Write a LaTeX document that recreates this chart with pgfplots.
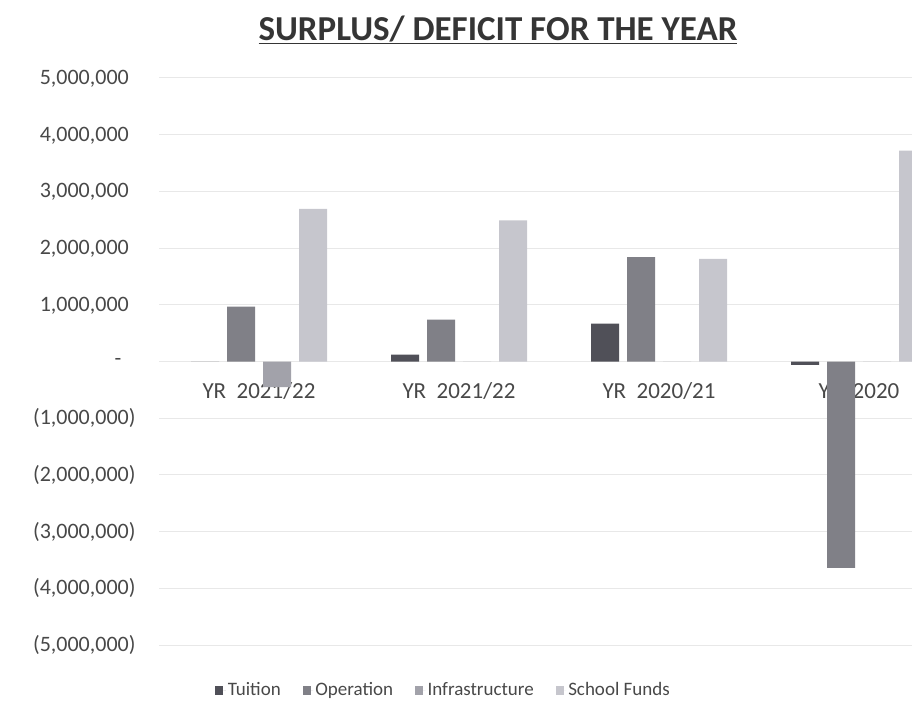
\documentclass[border=0pt]{standalone}
\usepackage{fontspec}
\setmainfont{Carlito}
\usepackage{pgfplots}
\pgfplotsset{compat=1.18}
\definecolor{tuit}{HTML}{505058}
\definecolor{oper}{HTML}{808087}
\definecolor{infr}{HTML}{A2A2AA}
\definecolor{fund}{HTML}{C6C6CD}
\definecolor{txt}{HTML}{484848}
\definecolor{ttl}{HTML}{353535}
\definecolor{grd}{HTML}{E8E8E8}
\begin{document}
\begin{tikzpicture}[x=1pt,y=1pt]
\useasboundingbox (0,0) rectangle (912,724);
\begin{axis}[
  at={(159pt,79pt)}, anchor=south west,
  scale only axis, width=753pt, height=567pt,
  ybar=8pt, bar width=28pt,
  legend image code/.code={\path[#1,draw=none] (0pt,-4.5pt) rectangle (8pt,4.5pt); \path (8pt,0pt) -- (10.5pt,0pt);},
  xmin=-0.5, xmax=3.265,
  ymin=-5000000, ymax=5000000,
  scaled y ticks=false,
  axis x line*=middle, axis y line*=left,
  axis line style={draw=none},
  major tick length=0pt,
  xtick={0,1,2,3},
  xticklabels={YR\ \ 2021/22,YR\ \ 2021/22,YR\ \ 2020/21,YR\ \ 2020},
  ytick={-5000000,-4000000,-3000000,-2000000,-1000000,0,1000000,2000000,3000000,4000000,5000000},
  yticklabels={{(5,000,000)},{(4,000,000)},{(3,000,000)},{(2,000,000)},{(1,000,000)},{-\kern14pt},{1,000,000\phantom{)}},{2,000,000\phantom{)}},{3,000,000\phantom{)}},{4,000,000\phantom{)}},{5,000,000\phantom{)}}},
  yticklabel style={font=\fontsize{22}{26}\selectfont, text=txt, anchor=east, xshift=-20pt},
  xticklabel style={font=\fontsize{23}{27}\selectfont, text=txt, anchor=base, yshift=-37pt},
  ymajorgrids, grid style={grd, line width=1pt},
  clip=true,
  legend columns=-1,
  legend style={draw=none, fill=none, at={(axis description cs:0.3779,-0.0794)}, anchor=center,
    font=\fontsize{19}{23}\selectfont, text=txt,
    /tikz/every even column/.append style={column sep=20pt}},
]
\addplot[fill=tuit, draw=none] coordinates {(0,0) (1,120000) (2,670000) (3,-60000)};
\addplot[fill=oper, draw=none] coordinates {(0,970000) (1,740000) (2,1840000) (3,-3640000)};
\addplot[fill=infr, draw=none] coordinates {(0,-450000) (1,0) (2,0) (3,0)};
\addplot[fill=fund, draw=none] coordinates {(0,2690000) (1,2490000) (2,1810000) (3,3720000)};
\legend{Tuition,Operation,Infrastructure,School Funds}
\end{axis}
\node[font=\fontsize{35}{40}\selectfont\bfseries, text=ttl] at (498,694) {\underline{SURPLUS/ DEFICIT FOR THE YEAR}};
\end{tikzpicture}
\end{document}
